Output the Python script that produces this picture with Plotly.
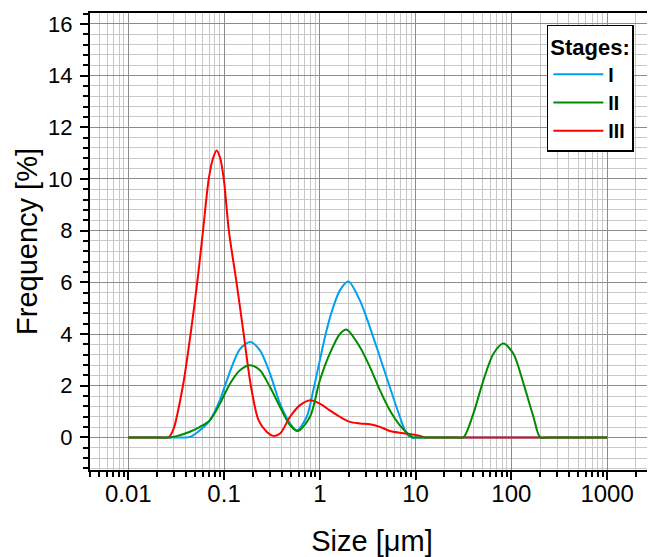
import plotly.graph_objects as go

# Stage I (blue)
size_I = [0.01, 0.03, 0.04, 0.044, 0.056, 0.0713, 0.0906, 0.1153, 0.1466, 0.187, 0.237, 0.302, 0.384,
          0.489, 0.575, 0.73, 0.855, 1.0, 1.175, 1.38, 1.62, 1.99, 2.62, 3.33, 4.24, 5.38, 6.85,
          8.05, 9.1, 11.0, 500, 1000]
freq_I = [0, 0, 0, 0.02, 0.28, 0.67, 1.45, 2.55, 3.42, 3.69, 3.37, 2.47, 1.31,
          0.54, 0.27, 0.8, 1.83, 2.98, 4.14, 5.04, 5.69, 6.03, 5.3, 4.27, 3.11, 1.95, 0.8,
          0.15, 0, 0, 0, 0]

# Stage II (green)
size_II = [0.01, 0.022, 0.027, 0.032, 0.044, 0.056, 0.0713, 0.0906, 0.1153, 0.1466, 0.187, 0.237, 0.302,
           0.384, 0.489, 0.59, 0.79, 1.0, 1.27, 1.62, 1.91, 2.62, 3.33, 4.24, 5.38, 6.85, 8.71,
           9.44, 11.0, 27.0, 31.6, 40.2, 51.1, 65.0, 82.6, 105.2, 134.0, 170.0, 200.0, 240.0, 700, 1000]
freq_II = [0, 0, 0, 0.05, 0.22, 0.41, 0.67, 1.31, 2.08, 2.6, 2.79, 2.6, 1.95,
           1.18, 0.47, 0.25, 0.8, 2.2, 3.24, 4.0, 4.17, 3.5, 2.73, 1.83, 1.05, 0.47, 0.09,
           0, 0, 0, 0, 0.93, 2.21, 3.24, 3.63, 3.24, 2.08, 0.8, 0, 0, 0, 0]

# Stage III (red)
size_III = [0.01, 0.022, 0.0263, 0.0295, 0.0372, 0.0447, 0.0525, 0.0603, 0.0692, 0.0767, 0.0838,
            0.0912, 0.0998, 0.1122, 0.1349, 0.1603, 0.1905, 0.229, 0.2818, 0.3266, 0.385, 0.489,
            0.622, 0.794, 1.0, 1.27, 1.62, 2.06, 2.62, 3.33, 4.24, 5.38, 6.85, 8.71, 11.1, 12.6,
            15.0, 500, 1000]
freq_III = [0, 0, 0, 0.3, 2.0, 4.0, 6.0, 8.0, 10.0, 10.8, 11.1,
            10.8, 9.94, 8.0, 6.0, 4.0, 2.0, 0.67, 0.2, 0.06, 0.15, 0.8,
            1.25, 1.44, 1.31, 1.05, 0.8, 0.6, 0.54, 0.51, 0.41, 0.25, 0.18, 0.13, 0.06, 0,
            0, 0, 0]

names = ["I", "II", "III"]
colors = ["#00A0F0", "#008C00", "#FF0000"]

FONT = "Liberation Sans, Arial, sans-serif"

series = {
    "I": (size_I, freq_I, colors[0], 1),
    "II": (size_II, freq_II, colors[1], 2),
    "III": (size_III, freq_III, colors[2], 3),
}

fig = go.Figure()
# draw order: I, III, II (green on top), legend order I, II, III
for nm in [names[0], names[2], names[1]]:
    xs, ys, c, rank = series[nm]
    fig.add_trace(go.Scatter(x=xs, y=ys, mode="lines", name="<b>" + nm + "</b>",
                             legendrank=rank,
                             line=dict(color=c, width=2, shape="spline", smoothing=0.8)))

fig.update_layout(
    width=647, height=549,
    margin=dict(l=82, r=1, t=5, b=87),
    paper_bgcolor="white", plot_bgcolor="white",
    font=dict(family=FONT, color="black"),
    showlegend=True,
    legend=dict(
        title=dict(text="<b>Stages:</b>", font=dict(size=22, family=FONT)),
        font=dict(size=19.5, family=FONT),
        x=0.81, y=0.974, xanchor="left", yanchor="top",
        bgcolor="white", bordercolor="black", borderwidth=1.5,
        itemwidth=50, tracegroupgap=0, traceorder="normal",
    ),
)

fig.update_xaxes(
    type="log", range=[-2.4, 3.49], automargin=False,
    dtick=1, tick0=0, exponentformat="none",
    tickfont=dict(size=24, family=FONT), ticklabelstandoff=-7,
    ticks="outside", ticklen=8, tickwidth=2, tickcolor="black",
    showline=True, linecolor="black", linewidth=2, mirror=True,
    showgrid=True, gridcolor="#8C8C8C", gridwidth=1,
    minor=dict(dtick="D1", ticks="outside", ticklen=5, tickwidth=2, tickcolor="black",
               showgrid=True, gridcolor="#C8C8C8", gridwidth=1),
    zeroline=False,
    title=dict(text="Size [μm]", font=dict(size=29, family=FONT), standoff=28),
)
fig.update_yaxes(
    range=[-1.26, 16.42], automargin=False,
    dtick=2, tick0=0,
    tickfont=dict(size=22, family=FONT), ticklabelstandoff=3,
    ticks="outside", ticklen=8, tickwidth=2, tickcolor="black",
    showline=True, linecolor="black", linewidth=2, mirror=True,
    showgrid=True, gridcolor="#8C8C8C", gridwidth=1,
    minor=dict(dtick=0.4, ticks="outside", ticklen=5, tickwidth=2, tickcolor="black",
               showgrid=True, gridcolor="#C8C8C8", gridwidth=1),
    zeroline=False,
    title=dict(text="Frequency [%]", font=dict(size=29, family=FONT), standoff=2),
)

fig.write_html("out.html")
